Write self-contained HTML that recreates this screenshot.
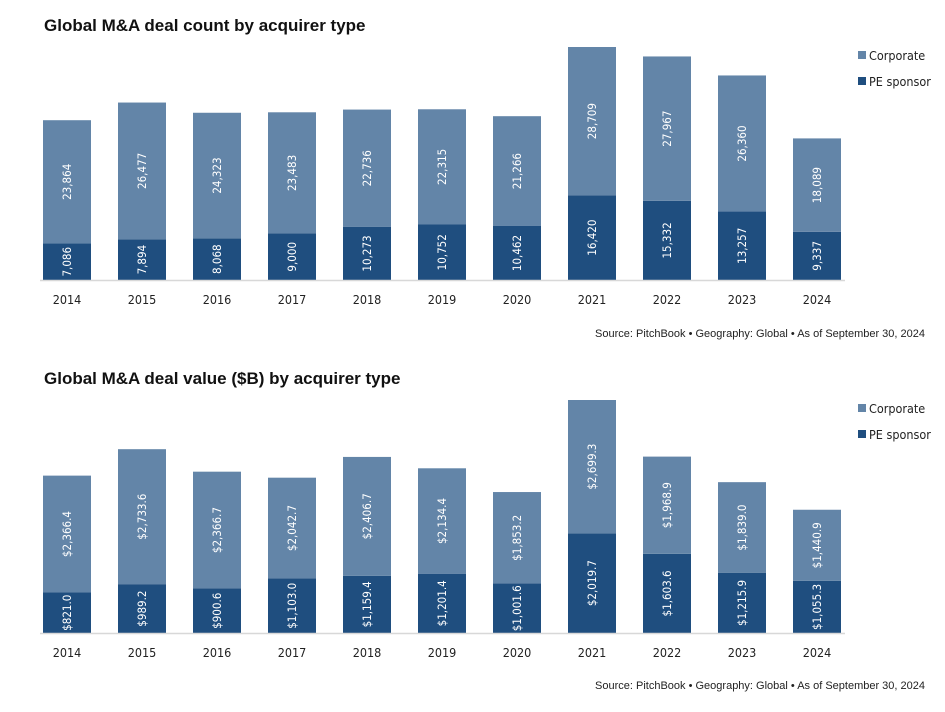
<!DOCTYPE html>
<html><head><meta charset="utf-8"><style>
body{margin:0;background:#fff;width:945px;height:707px;overflow:hidden;font-family:"Liberation Sans",sans-serif}
svg text{font-family:"DejaVu Sans Condensed","Liberation Sans Narrow","Liberation Sans",sans-serif}
</style></head><body>
<svg id="svg" width="945" height="707" xmlns="http://www.w3.org/2000/svg"></svg>
<script>
const years=["2014","2015","2016","2017","2018","2019","2020","2021","2022","2023","2024"];
const countPE=[7086,7894,8068,9000,10273,10752,10462,16420,15332,13257,9337];
const countCorp=[23864,26477,24323,23483,22736,22315,21266,28709,27967,26360,18089];
const valuePE=[821.0,989.2,900.6,1103.0,1159.4,1201.4,1001.6,2019.7,1603.6,1215.9,1055.3];
const valueCorp=[2366.4,2733.6,2366.7,2042.7,2406.7,2134.4,1853.2,2699.3,1968.9,1839.0,1440.9];
const NS="http://www.w3.org/2000/svg";
const svg=document.getElementById('svg');
function el(tag,attrs,txt){const e=document.createElementNS(NS,tag);for(const k in attrs)e.setAttribute(k,attrs[k]);if(txt!==undefined)e.textContent=txt;svg.appendChild(e);return e;}
function fmtC(v){return v.toLocaleString('en-US');}
function fmtV(v){return '$'+v.toLocaleString('en-US',{minimumFractionDigits:1,maximumFractionDigits:1});}
function chart(opt){
  const t=el('text',{x:44,y:opt.titleY,'font-size':17,'font-weight':'bold',fill:'#111',style:'font-family:Liberation Sans,sans-serif'},opt.title);
  
  const base=opt.base,max=opt.max,H=233;
  const y=v=>base-v/max*H;
  const x=i=>43+i*75;
  years.forEach((yr,i)=>{
    const pe=opt.pe[i],co=opt.corp[i];
    const r1=el('rect',{x:x(i),y:y(pe),width:48,height:base-y(pe),fill:'#1f4e7f'});
    
    const r2=el('rect',{x:x(i),y:y(pe+co),width:48,height:y(pe)-y(pe+co),fill:'#6385a8'});
    
    const cx=x(i)+24;
    [[pe,(base+y(pe))/2],[co,(y(pe)+y(pe+co))/2]].forEach(([v,cy],j)=>{
      const l=el('text',{x:cx,y:cy,fill:'#fff','font-size':11.5,'text-anchor':'middle','dominant-baseline':'central',transform:`rotate(-90 ${cx} ${cy})`},opt.fmt(v));
      
    });
    const tl=el('text',{x:cx,y:base+24,'font-size':12.5,fill:'#222','text-anchor':'middle'},yr);
    
  });
  const ax=el('line',{x1:40,x2:845,y1:base+0.5,y2:base+0.5,stroke:'#d8d8d8','stroke-width':1.5});
  
  [['Corporate','#6385a8',opt.legY],['PE sponsor','#1f4e7f',opt.legY+26]].forEach(([n,c,ly])=>{
    const s=el('rect',{x:858,y:ly-9,width:8,height:8,fill:c});
    
    const lt=el('text',{x:869,y:ly,'font-size':12.5,fill:'#222'},n);
    
  });
  const src=el('text',{x:925,y:opt.srcY,'font-size':11,fill:'#222','text-anchor':'end',style:'font-family:Liberation Sans,sans-serif'},'Source: PitchBook  •  Geography: Global  •  As of September 30, 2024');
  
}
chart({key:'count',title:'Global M&A deal count by acquirer type',titleY:31,base:280,max:45129,pe:countPE,corp:countCorp,fmt:fmtC,legY:60,srcY:337});
chart({key:'value',title:'Global M&A deal value ($B) by acquirer type',titleY:384,base:633,max:4719,pe:valuePE,corp:valueCorp,fmt:fmtV,legY:413,srcY:689});
</script>
</body></html>
